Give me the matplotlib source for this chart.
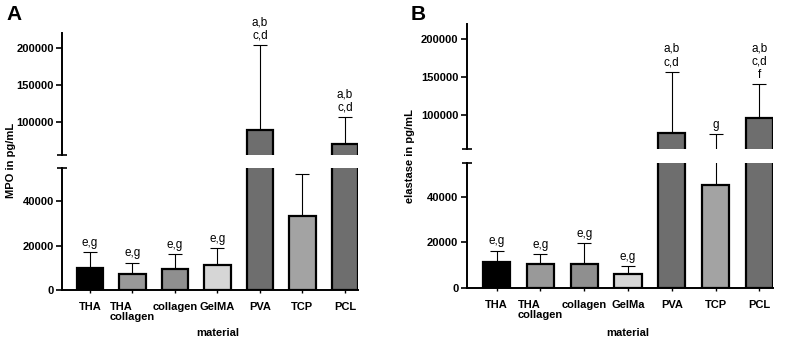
import matplotlib
matplotlib.use("Agg")
import matplotlib.pyplot as plt
import matplotlib.transforms as mtransforms
import numpy as np

plt.rcParams['font.family'] = ['Liberation Sans', 'DejaVu Sans']

categories_A = ["THA", "THA\ncollagen", "collagen", "GelMA", "PVA", "TCP", "PCL"]
categories_B = ["THA", "THA\ncollagen", "collagen", "GelMa", "PVA", "TCP", "PCL"]
colors = ["#000000", "#999999", "#8f8f8f", "#d6d6d6", "#6e6e6e", "#a3a3a3", "#6e6e6e"]

mpo_mean = [10000, 7300, 9400, 11500, 89300, 33400, 70300]
mpo_err_top = [17100, 12400, 16300, 18900, 204000, 52400, 106000]
mpo_labels = ["e,g", "e,g", "e,g", "e,g", "a,b\nc,d", "", "a,b\nc,d"]

ela_mean = [11300, 10400, 10700, 6000, 76900, 45300, 96500]
ela_err_top = [16400, 14800, 19700, 9650, 157400, 74800, 140500]
ela_labels = ["e,g", "e,g", "e,g", "e,g", "a,b\nc,d", "g", "a,b\nc,d\nf"]

lower_ticks = [0, 20000, 40000]
upper_ticks = [100000, 150000, 200000]
break_at = 55000
top_lim = 220000

W, H = 790, 339
fig = plt.figure(figsize=(W / 100, H / 100), dpi=100)


def px_rect(left, right, top, bottom):
    return [left / W, 1 - bottom / H, (right - left) / W, (bottom - top) / H]


def panel(rect_up, rect_lo, xlim, cats, means, errtop, labels, ylabel, ylab_pos, letter, letter_pos):
    ax_up = fig.add_axes(px_rect(*rect_up))
    ax_lo = fig.add_axes(px_rect(*rect_lo))
    x = np.arange(len(cats))
    means = np.array(means, dtype=float)
    errtop = np.array(errtop, dtype=float)
    for ax in (ax_up, ax_lo):
        ax.bar(x, means, width=0.62, color=colors, edgecolor='black', linewidth=1.6, zorder=3)
        ax.errorbar(x, means, yerr=[np.zeros_like(means), errtop - means], fmt='none',
                    ecolor='black', elinewidth=0.8, capsize=5.2, capthick=0.8, zorder=2)
        ax.set_xlim(*xlim)
        ax.spines['right'].set_visible(False)
        ax.spines['top'].set_visible(False)
        ax.spines['left'].set_linewidth(1.4)
        ax.spines['bottom'].set_linewidth(1.4)
        ax.tick_params(axis='y', which='major', direction='out', length=4.5, width=1.2,
                       labelsize=8, pad=1.5)
        ax.tick_params(axis='y', which='minor', direction='inout', length=7, width=1.2)
        ax.set_yticks([break_at], minor=True)
        for t in ax.get_yticklabels():
            t.set_fontweight('bold')
    ax_up.set_ylim(break_at, top_lim)
    ax_lo.set_ylim(0, break_at)
    ax_up.spines['bottom'].set_visible(False)
    ax_up.set_xticks([])
    ax_up.set_yticks(upper_ticks)
    ax_up.set_yticklabels([str(v) for v in upper_ticks], fontweight='bold', fontsize=8)
    ax_lo.set_yticks(lower_ticks)
    ax_lo.set_yticklabels([str(v) for v in lower_ticks], fontweight='bold', fontsize=8)
    ax_lo.set_xticks(x)
    ax_lo.set_xticklabels(cats, fontweight='bold', fontsize=8, linespacing=1.0,
                          multialignment='left', va='top')
    ax_lo.tick_params(axis='x', direction='out', length=2.5, width=1.0, pad=6)

    for xi, top, lab in zip(x, errtop, labels):
        if not lab:
            continue
        ax = ax_up if top > break_at else ax_lo
        ax.annotate(lab, (xi, top), xytext=(0, 2.5), textcoords='offset points',
                    ha='center', va='bottom', fontsize=8.5, linespacing=1.15,
                    annotation_clip=False)

    tr = mtransforms.blended_transform_factory(ax_lo.transData, fig.transFigure)
    ax_lo.text(3, 1 - 333 / H, "material", transform=tr, ha='center', va='center',
               fontsize=8, fontweight='bold')
    fig.text(ylab_pos[0] / W, 1 - ylab_pos[1] / H, ylabel, rotation=90, ha='center',
             va='center', fontsize=8, fontweight='bold')
    fig.text(letter_pos[0] / W, 1 - letter_pos[1] / H, letter, ha='left', va='baseline',
             fontsize=15, fontweight='bold')


panel((62, 358, 33, 155), (62, 358, 168, 290.3), (-0.66, 6.31), categories_A,
      mpo_mean, mpo_err_top, mpo_labels, "MPO in pg/mL", (11, 160), "A", (6, 20))
panel((466.7, 773.3, 24, 149.3), (466.7, 773.3, 162.7, 288), (-0.686, 6.32), categories_B,
      ela_mean, ela_err_top, ela_labels, "elastase in pg/mL", (410, 156), "B", (411, 20))

fig.savefig("out.png", dpi=100)
